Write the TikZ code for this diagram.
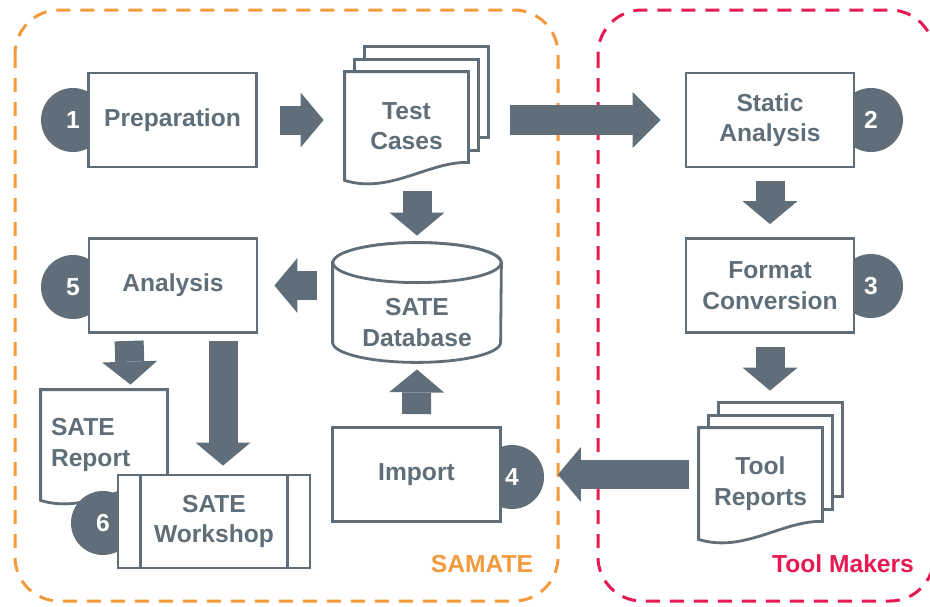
\documentclass[tikz,border=0pt]{standalone}
\usepackage{fontspec}
\setmainfont{Liberation Sans}
\usetikzlibrary{arrows.meta, calc, backgrounds}
\definecolor{slate}{HTML}{5F6E79}
\definecolor{samate}{HTML}{F39A3D}
\definecolor{makers}{HTML}{E61A50}
\tikzset{
  every node/.style = {font=\bfseries\fontsize{12.3}{15.2}\selectfont, text=slate},
  smbox/.style   = {draw=slate, line width=1.4pt, fill=white, align=center,
                    minimum width=84pt, minimum height=47pt},
  smnum/.style   = {circle, fill=slate, text=white, minimum size=32pt, inner sep=0pt},
  smpage/.style  = {draw=slate, line width=1.4pt, fill=white},
  smline/.style  = {draw=slate, line width=1.4pt},
  smdoc/.style   = {align=center, inner sep=0pt},
  smgo/.style    = {draw=slate, line width=14.5pt,
                    -{Triangle[length=11.5pt, width=27.5pt, line width=0pt]}},
  smgobig/.style = {smgo, line width=15pt,
                    -{Triangle[length=14pt, width=28pt, line width=0pt]}},
  smframe/.style = {dash pattern=on 7pt off 5pt, line width=1.5pt, rounded corners=22pt},
}
% sheets behind a stack, then the front sheet with its wavy foot
\newcommand{\smpages}[1]{%
  \foreach \dx/\dy in {20/-25, 10/-12}
    \draw[smpage] ($(#1.north west)+(\dx,\dy)$) rectangle ($(#1.south east)+(\dx,\dy-18)$);
}
\newcommand{\smsheet}[1]{%
  \draw[smpage] (#1.south west) -- (#1.north west) -- (#1.north east) -- ($(#1.south east)+(0,-18)$)
    .. controls ($(#1.south east)+(-40,-19)$) and ($(#1.south west)+(45,14)$) .. (#1.south west) -- cycle;
}
\begin{document}
\begin{tikzpicture}[x=0.5pt, y=-0.5pt]
\useasboundingbox (0,0) rectangle (930,606);

\node[smnum] (n1) at (73,120) {1};
\node[smnum] (n5) at (73,287) {5};
\node[smnum] (n2) at (871,120) {2};
\node[smnum] (n3) at (871,286) {3};
\node[smnum] (n4) at (512,477) {4};

\node[smbox] (prep) at (172.5,120) {Preparation};
\node[smbox] (ana)  at (173,285.5) {Analysis};
\node[smbox] (sa)   at (770,120) {Static\\Analysis};
\node[smbox] (fc)   at (770,285.5) {Format\\Conversion};
\node[smbox] (imp)  at (416.5,474.5) {Import};

\node[smdoc, minimum width=61.5pt, minimum height=54pt] (tc) at (406.5,126) {Test\\Cases};
\node[smdoc, minimum width=61.5pt, minimum height=55.5pt] (tr) at (760.5,483.5) {Tool\\Reports};
\node[smdoc, minimum width=84pt, minimum height=39.5pt] (db) at (417,322.5) {SATE\\Database};
\node[smdoc, minimum width=63pt, minimum height=55pt, text width=53pt, align=left] (rpt)
  at (104,445) {SATE\\Report};

\node[smnum] (n6) at (103,523) {6};
\node[smbox, minimum width=96pt, minimum height=46.5pt] (ws) at (214,521.5) {SATE\\Workshop};
\draw[smline] ($(ws.north west)+(24,0)$) -- ($(ws.south west)+(24,0)$)
              ($(ws.north east)+(-24,0)$) -- ($(ws.south east)+(-24,0)$);

\begin{scope}[on background layer]
  \draw[smframe, samate] (15,10) rectangle (558,601);
  \draw[smframe, makers] (598,10) rectangle (934,601);
  \smpages{tc} \smsheet{tc}
  \smpages{tr} \smsheet{tr}
  \smsheet{rpt}
  \draw[smpage] ($(db.north west)+(0,-20)$) -- ($(db.south west)+(0,-20)$)
    arc[start angle=180, end angle=360, x radius=42pt, y radius=10pt]
    -- ($(db.north east)+(0,-20)$)
    arc[start angle=0, end angle=180, x radius=42pt, y radius=10pt] -- cycle;
  \draw[smpage] ($(db.north)+(0,-20)$) ellipse[x radius=42pt, y radius=10pt];
\end{scope}

\node[text=samate] (samlab)  at (482,564) {SAMATE};
\node[text=makers] (toollab) at (843,564) {Tool Makers};

\draw[smgo] ($(prep.east)+(22,0)$) -- ($(prep.east -| tc.west)+(-21,0)$);
\draw[smgobig] ($(tc.east |- sa.west)+(42,0)$) -- ($(sa.west)+(-24,0)$);
\draw[smgo] ($(sa.south)+(0,13)$) -- ($(fc.north)+(0,-13)$);
\draw[smgo] ($(fc.south)+(0,13)$) -- ($(fc.south |- tr.north)+(0,-37)$);
\draw[smgo] ($(tr.west |- imp.east)+(-10,0)$) -- ($(imp.east)+(56,0)$);
\draw[smgo] ($(imp.north)+(0,-12)$) -- ($(db.south)+(0,7)$);
\draw[smgo] ($(db.north |- tc.south)+(0,11)$) -- ($(db.north)+(0,-47)$);
\draw[smgo] ($(db.west |- ana.east)+(-16,0)$) -- ($(ana.east)+(16,0)$);
\draw[smgo] ($(ana.south west)+(41.5,7)$) -- ($(rpt.north)+(26.5,-5)$);
\draw[smgo] ($(ws.north |- ana.south)+(9,7)$) -- ($(ws.north)+(9,-8)$);
\end{tikzpicture}
\end{document}
